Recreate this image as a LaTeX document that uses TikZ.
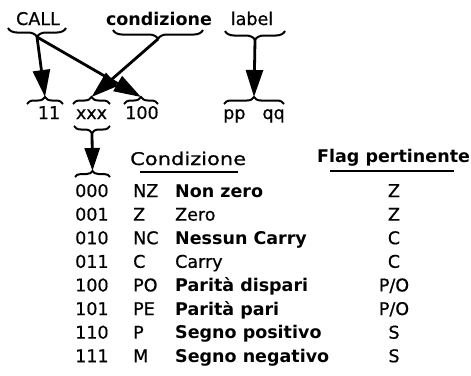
\documentclass[tikz,border=0pt]{standalone}
\usepackage{fontspec}
\setmainfont{DejaVu Sans}
\newfontfamily\medfont{DejaVu Sans}[FakeBold=0.6]
\usetikzlibrary{arrows.meta,decorations.pathreplacing}
\begin{document}
\begin{tikzpicture}[x=1pt,y=1pt,
  txt/.style={inner sep=0pt, font=\medfont\fontsize{17.5}{20}\selectfont},
  bf/.style={inner sep=0pt, font=\fontsize{17.5}{20}\selectfont\bfseries},
  brc/.style={decorate, decoration={brace, amplitude=#1}, line width=2pt},
  brc/.default=8pt,
  arr/.style={-{Triangle[length=27pt,width=17pt]}, line width=2.8pt},
  arrs/.style={-{Triangle[length=23pt,width=15pt]}, line width=2.8pt}
]
\path[fill=white] (0,0) rectangle (471,-375);
\useasboundingbox (0,0) rectangle (471,-375);

% top labels
\node[txt, anchor=base] (call) at (38,-25) {CALL};
\node[bf,  anchor=base] (cond) at (159,-25) {condizione};
\node[txt, anchor=base] (lab)  at (252,-25) {label};

% top braces (pointing down)
\draw[brc=9pt] (66,-28) -- (8,-28);
\draw[brc=9pt] (203,-30) -- (113,-30);
\draw[brc=9pt] (285,-31) -- (225,-31);
\coordinate (tCall) at (37,-37);
\coordinate (tCond) at (158,-39);
\coordinate (tLab)  at (255,-40);

% bottom labels
\node[txt, anchor=base] (n11)  at (49,-119) {11};
\node[txt, anchor=base] (nxxx) at (91.5,-119) {xxx};
\node[txt, anchor=base] (n100) at (142,-119) {100};
\node[txt, anchor=base] (npq)  at (254,-119) {pp\hspace{17pt}qq};

% bottom overbraces (pointing up)
\draw[brc=7pt] (27,-104) -- (63,-104);
\draw[brc=7pt] (73,-104) -- (110,-104);
\draw[brc=7pt] (124,-104) -- (158,-104);
\draw[brc=7pt] (224,-104) -- (284,-104);
\coordinate (b11)  at (45,-97);
\coordinate (bxxx) at (91.5,-97);
\coordinate (b100) at (141,-97);
\coordinate (bpq)  at (254,-97);

% xxx underbrace and 000 overbrace
\draw[brc=7pt] (110,-126) -- (74,-126);
\coordinate (txd) at (92,-133);
\draw[brc=6pt] (75,-177) -- (110,-177);
\coordinate (b000) at (92.5,-171);

% arrows
\draw[arr] (tCall) -- (b11);
\draw[arr] (tCall) -- (b100);
\draw[arr] (tCond) -- (bxxx);
\draw[arr] (tLab) -- (bpq);
\draw[arrs] (txd) -- (b000);

% header
\node[txt, anchor=base west] (hcond) at (130,-165) {\scalebox{1.2}[1]{Condizione}};
\node[bf,  anchor=base west] (hflag) at (317,-162) {Flag pertinente};
\draw[line width=1.4pt] (140,-172) -- (238,-172);
\draw[line width=1.6pt] (330,-171) -- (454,-171);

% table
\foreach \c/\m/\d/\f/\w [count=\i from 0] in {
  000/NZ/Non zero/Z/bf,
  001/Z/Zero/Z/txt,
  010/NC/Nessun Carry/C/bf,
  011/C/Carry/C/txt,
  100/PO/Parità dispari/{P/O}/bf,
  101/PE/Parità pari/{P/O}/bf,
  110/P/Segno positivo/S/bf,
  111/M/Segno negativo/S/bf}
{
  \node[txt, anchor=base west] (c\i) at (75,{-(197+23.6*\i)}) {\c};
  \node[txt, anchor=base west] (m\i) at (133,{-(197+23.6*\i)}) {\m};
  \node[\w,  anchor=base west] (d\i) at (175,{-(197+23.6*\i)}) {\d};
  \node[txt, anchor=base] (f\i) at (394,{-(197+23.6*\i)}) {\f};
}
\end{tikzpicture}
\end{document}
